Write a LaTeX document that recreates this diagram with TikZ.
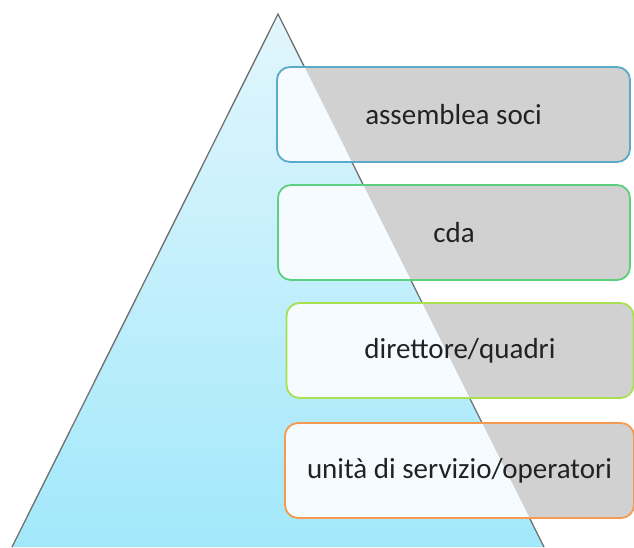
\documentclass[tikz,border=0pt]{standalone}
\usepackage{fontspec}
\setmainfont{Carlito}
\definecolor{triline}{HTML}{6E6E6E}
\definecolor{tritop}{HTML}{E2F6FC}
\definecolor{tribot}{HTML}{A2E8FB}
\definecolor{boxgray}{HTML}{D1D1D1}
\definecolor{boxwhite}{HTML}{F5FBFE}
\definecolor{txt}{HTML}{222222}
\definecolor{cA}{HTML}{5AAAC8}
\definecolor{cB}{HTML}{5CD07E}
\definecolor{cC}{HTML}{A8E052}
\definecolor{cD}{HTML}{F59A4E}
\begin{document}
\begin{tikzpicture}[x=1pt,y=-1pt,
  levelbox/.style={draw=#1, line width=1.8pt, rounded corners=13pt, fill=boxgray,
    minimum height=95pt, text=txt, font=\fontsize{29}{34}\selectfont,
    path picture={\fill[boxwhite] (apex) -- (bl) -- (br) -- cycle;}}]
\useasboundingbox (0,0) rectangle (634,547);
\clip (0,0) rectangle (634,547);
\coordinate (apex) at (278,14);
\coordinate (bl) at (12,547);
\coordinate (br) at (544,547);
\shade[top color=tritop, bottom color=tribot] (apex) -- (bl) -- (br) -- cycle;
\draw[triline, line width=1.3pt] (bl) -- (apex) -- (br);
\node[levelbox=cA, minimum width=353pt] (n1) at (453.5,114.5) {assemblea soci};
\node[levelbox=cB, minimum width=352pt] (n2) at (454,232.5) {cda};
\node[levelbox=cC, minimum width=347pt] (n3) at (460,350.5) {direttore/quadri};
\node[levelbox=cD, minimum width=349pt] (n4) at (459.5,470.5) {unità di servizio/operatori};
\end{tikzpicture}
\end{document}
